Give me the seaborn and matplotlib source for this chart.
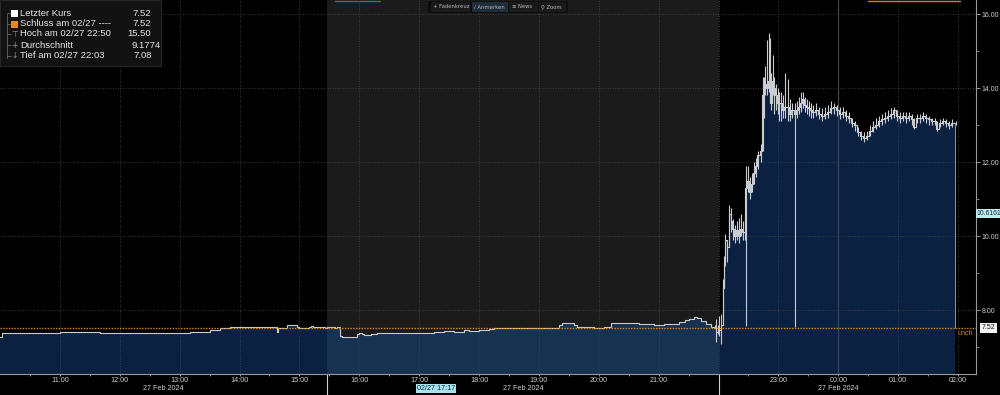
import matplotlib
matplotlib.use("Agg")
import matplotlib.pyplot as plt
from matplotlib.patches import Rectangle
from matplotlib.ticker import FixedLocator
import seaborn as sns
import numpy as np
import pandas as pd

# ---------------- data ----------------
LINE_TIMES = ["10:00", "10:02", "10:05", "10:30", "11:00", "11:40", "12:10", "12:50", "13:10",
              "13:20", "13:30", "13:40", "13:50", "14:00", "14:18", "14:38", "14:39", "14:48",
              "14:58", "15:00", "15:10", "15:12", "15:14", "15:22", "15:26", "15:28",
              "15:33", "15:36", "15:38", "15:41", "15:43", "15:55", "15:58", "16:00", "16:03",
              "16:05", "16:12", "16:18", "16:25", "16:35", "16:45", "16:55", "17:05", "17:15",
              "17:25", "17:35", "17:45", "17:50", "18:00", "18:10", "18:15", "18:25", "18:40",
              "19:00", "19:15", "19:20", "19:23", "19:35", "19:38", "19:55", "20:05", "20:12",
              "20:20", "20:30", "20:40", "20:55", "21:05", "21:15", "21:20", "21:26", "21:30",
              "21:35", "21:38", "21:42", "21:47", "21:52", "21:55"]
LINE_CLOSE = [7.28, 7.37, 7.385, 7.39, 7.40, 7.385, 7.39, 7.385, 7.40,
              7.41, 7.45, 7.50, 7.53, 7.53, 7.53, 7.40, 7.50, 7.59,
              7.55, 7.52, 7.54, 7.58, 7.54, 7.55, 7.50, 7.53,
              7.55, 7.50, 7.54, 7.30, 7.26, 7.27, 7.34, 7.38, 7.36,
              7.33, 7.35, 7.38, 7.37, 7.38, 7.37, 7.38, 7.39, 7.40,
              7.42, 7.40, 7.45, 7.43, 7.47, 7.49, 7.51, 7.52, 7.51,
              7.50, 7.51, 7.60, 7.64, 7.60, 7.53, 7.52, 7.53, 7.64,
              7.66, 7.65, 7.61, 7.60, 7.62, 7.63, 7.68, 7.72, 7.77,
              7.81, 7.78, 7.70, 7.62, 7.55, 7.52]

BAR_TIMES = ["21:56", "21:57", "21:59",
             "22:00", "22:02", "22:04", "22:05", "22:06", "22:08", "22:10", "22:12", "22:14",
             "22:16", "22:18", "22:20", "22:22", "22:24", "22:26", "22:27", "22:29", "22:31",
             "22:33", "22:35", "22:37", "22:39", "22:42", "22:44", "22:45", "22:46", "22:48",
             "22:50", "22:51", "22:52", "22:54", "22:55", "22:57", "22:59", "23:00", "23:02",
             "23:04", "23:06", "23:09", "23:11", "23:13", "23:16", "23:18", "23:20", "23:22",
             "23:24", "23:26", "23:28", "23:30", "23:32", "23:34", "23:37", "23:40", "23:43",
             "23:46", "23:49", "23:52", "23:55", "23:58", "00:01", "00:04", "00:07", "00:10",
             "00:13", "00:16", "00:19", "00:22", "00:25", "00:28", "00:31", "00:34", "00:37",
             "00:40", "00:43", "00:46", "00:49", "00:52", "00:55", "00:58", "01:01", "01:04",
             "01:07", "01:10", "01:13", "01:15", "01:18", "01:21", "01:24", "01:27", "01:30",
             "01:33", "01:36", "01:38", "01:41", "01:44", "01:47", "01:50", "01:53", "01:57"]
BAR_CLOSE = [7.52, 7.40, 7.50,
             7.45, 7.60, 8.60, 9.30, 9.90, 9.70, 10.60, 10.40, 10.20,
             10.00, 10.15, 10.00, 10.20, 10.10, 10.10, 11.30, 11.50, 11.20,
             11.40, 11.70, 11.90, 12.20, 12.30, 13.80, 14.10, 14.10, 14.00,
             14.20, 14.10, 13.60, 14.20, 14.00, 13.80, 13.60, 13.60, 13.60,
             13.40, 13.50, 13.50, 13.30, 13.40, 13.30, 13.40, 13.50, 13.60,
             13.70, 13.55, 13.50, 13.45, 13.40, 13.35, 13.40, 13.30, 13.25,
             13.30, 13.35, 13.45, 13.50, 13.40, 13.30, 13.35, 13.25, 13.20,
             13.05, 13.00, 12.80, 12.70, 12.65, 12.70, 12.85, 12.95, 13.00,
             13.10, 13.15, 13.20, 13.25, 13.30, 13.40, 13.25, 13.20, 13.25,
             13.20, 13.25, 13.15, 12.95, 13.20, 13.20, 13.25, 13.20, 13.15,
             13.10, 13.10, 12.90, 13.05, 13.10, 13.05, 13.00, 13.05, 13.05]
BAR_LOW = [7.50, 7.14, 7.35,
           7.30, 7.08, 7.60, 8.60, 9.20, 9.30, 9.70, 10.10, 9.90,
           9.80, 9.90, 9.80, 10.00, 9.90, 9.90, 7.57, 11.20, 11.00,
           11.20, 11.40, 11.60, 11.80, 12.00, 12.30, 13.20, 13.80, 13.80,
           13.90, 13.60, 13.40, 13.80, 13.30, 13.40, 13.30, 13.10, 13.10,
           13.20, 13.20, 13.10, 13.10, 13.20, 7.55, 13.20, 13.30, 13.35,
           13.45, 13.35, 13.30, 13.25, 13.20, 13.20, 13.25, 13.15, 13.10,
           13.15, 13.20, 13.30, 13.30, 13.25, 13.15, 13.20, 13.10, 13.05,
           12.95, 12.85, 12.70, 12.60, 12.55, 12.60, 12.70, 12.80, 12.90,
           12.95, 13.00, 13.05, 13.10, 13.15, 13.20, 13.10, 13.05, 13.10,
           13.05, 13.10, 13.00, 12.90, 13.05, 13.05, 13.10, 13.05, 13.00,
           13.00, 13.00, 12.85, 12.95, 13.00, 12.95, 12.90, 12.95, 13.00]
BAR_HIGH = [7.60, 7.76, 7.60,
            7.85, 7.90, 8.85, 9.45, 10.05, 9.90, 10.85, 10.75, 10.45,
            10.30, 10.40, 10.50, 10.60, 10.40, 10.60, 11.90, 11.90, 11.60,
            11.70, 12.00, 12.10, 12.30, 12.50, 14.30, 14.30, 14.60, 15.30,
            15.50, 15.35, 14.40, 14.90, 14.30, 14.10, 14.00, 13.90, 13.90,
            13.80, 14.40, 14.25, 13.70, 13.60, 13.60, 13.65, 13.75, 13.90,
            13.90, 13.75, 13.70, 13.65, 13.60, 13.55, 13.60, 13.50, 13.45,
            13.50, 13.55, 13.65, 13.60, 13.55, 13.50, 13.50, 13.40, 13.35,
            13.20, 13.10, 12.95, 12.85, 12.80, 12.85, 13.00, 13.10, 13.20,
            13.25, 13.30, 13.35, 13.40, 13.45, 13.50, 13.40, 13.35, 13.35,
            13.35, 13.35, 13.30, 13.20, 13.30, 13.30, 13.35, 13.30, 13.25,
            13.20, 13.20, 13.10, 13.15, 13.20, 13.15, 13.10, 13.15, 13.10]

LAST_PRICE = 7.52
CROSS_VALUE = 10.6161
CROSS_TIME = "17:17"
Y_MAJOR = [8, 10, 12, 14, 16]
Y_MINOR = [7, 9, 11, 13, 15]
X_TICKS = ["11:00", "12:00", "13:00", "14:00", "15:00", "16:00", "17:00", "18:00", "19:00",
           "20:00", "21:00", "22:00", "23:00", "00:00", "01:00", "02:00"]
X_LABELS = ["11:00", "12:00", "13:00", "14:00", "15:00", "16:00", "17:00", "18:00", "19:00",
            "20:00", "21:00", "", "23:00", "00:00", "01:00", "02:00"]
SESSION_BOUNDS = ["15:28", "22:00"]
SESSION_DATE = "27 Feb 2024"
LEGEND_ROWS = [("Letzter Kurs", "7.52"), ("Schluss am 02/27 ----", "7.52"),
               ("Hoch am 02/27 22:50", "15.50"), ("Durchschnitt", "9.1774"),
               ("Tief am 02/27 22:03", "7.08")]
TOOLBAR = ["+ Fadenkreuz", "\u2215 Anmerken", "\u2261 News", "\u26b2 Zoom"]


def to_min(s):
    h, m = map(int, s.split(":"))
    t = h * 60 + m - 600
    return t + 1440 if t < 0 else t


# ---------------- style ----------------
sns.set_theme(style="dark", rc={"axes.facecolor": "black", "figure.facecolor": "black",
                                "savefig.facecolor": "black"})
plt.rcParams["font.family"] = ["Liberation Sans", "DejaVu Sans"]

NAVY = "#0b2141"
NAVY2 = "#173150"
GRID = "#4a4a4a"
ORANGE = "#d98a25"
LINEC = "#c9cdd2"
TXT = "#cfcfcf"

W, H = 1000, 395
fig = plt.figure(figsize=(W / 100, H / 100), dpi=100)
AX_BOTTOM = 374
ax = fig.add_axes([0, 1 - AX_BOTTOM / H, 976 / W, AX_BOTTOM / H])
ax.set_facecolor("black")

XMAX = 978
YMIN, YMAX = 6.27, 16.38
ax.set_xlim(0, XMAX)
ax.set_ylim(YMIN, YMAX)

b1, b2 = [to_min(s) for s in SESSION_BOUNDS]
ax.axvspan(b1, b2, color="#1b1b1b", zorder=0, lw=0)

# combined series
all_t = np.array([to_min(s) for s in LINE_TIMES + BAR_TIMES], dtype=float)
all_v = np.array(LINE_CLOSE + BAR_CLOSE, dtype=float)
df = pd.DataFrame({"t": all_t, "v": all_v})

for a, b, col in [(0, b1, NAVY), (b1, b2, NAVY2), (b2, all_t.max(), NAVY)]:
    m = (df.t >= a) & (df.t <= b)
    ax.fill_between(df.t[m], df.v[m], YMIN - 1, step="post", color=col, lw=0, zorder=1)

# grid
for t in X_TICKS:
    ax.axvline(to_min(t), color=GRID, lw=0.6, ls=(0, (1, 2)), zorder=2)
for y in Y_MAJOR:
    ax.axhline(y, color=GRID, lw=0.6, ls=(0, (1, 2)), zorder=2)
ax.axvline(to_min("00:00"), color="#3a4654", lw=0.9, zorder=2)

# price line
sns.lineplot(data=df, x="t", y="v", drawstyle="steps-post", color=LINEC, lw=0.8,
             estimator=None, sort=False, ax=ax, zorder=4)
bt = np.array([to_min(s) for s in BAR_TIMES], dtype=float) + 0.5
ax.vlines(bt, BAR_LOW, BAR_HIGH, color=LINEC, lw=0.8, zorder=4)
ax.vlines(all_t.max(), LAST_PRICE, all_v[-1], color="#8a96a4", lw=0.7, zorder=4)

# last price line
ax.axhline(LAST_PRICE, color=ORANGE, lw=1.0, ls=(0, (1, 1)), zorder=5)

# axes styling
for s in ["left", "top"]:
    ax.spines[s].set_visible(False)
for s in ["right", "bottom"]:
    ax.spines[s].set_visible(True)
    ax.spines[s].set_color("#9a9a9a")
    ax.spines[s].set_linewidth(0.8)
ax.set_xlabel("")
ax.set_ylabel("")
ax.yaxis.tick_right()
ax.yaxis.set_major_locator(FixedLocator(Y_MAJOR))
ax.yaxis.set_minor_locator(FixedLocator(Y_MINOR))
ax.set_yticklabels([f"{y:.2f}" for y in Y_MAJOR])
ax.xaxis.set_major_locator(FixedLocator([to_min(t) for t in X_TICKS]))
ax.set_xticklabels(X_LABELS)
ax.xaxis.set_minor_locator(FixedLocator([to_min(t) + 30 for t in ["10:00"] + X_TICKS[:-1]]))
ax.tick_params(axis="y", which="major", direction="out", length=3, width=0.7,
               color="#9a9a9a", labelsize=5.0, labelcolor=TXT, pad=1.0, right=True, left=False)
ax.tick_params(axis="y", which="minor", direction="out", length=2, width=0.6,
               color="#9a9a9a", right=True, left=False)
ax.tick_params(axis="x", which="major", direction="out", length=1.5, width=0.7,
               color="#9a9a9a", labelsize=5.2, labelcolor=TXT, pad=0.3, bottom=True)
ax.tick_params(axis="x", which="minor", direction="out", length=1.5, width=0.6,
               color="#9a9a9a", bottom=True)
ax.grid(False)

xt = ax.get_xaxis_transform()
yt = ax.get_yaxis_transform()

# session boundary marks below axis
for b in (b1, b2):
    ax.plot([b, b], [0, -21 / AX_BOTTOM], transform=xt, color="#d0d0d0", lw=0.8, clip_on=False)

# date labels centred on sessions
sess_edges = [0, b1, b2, to_min("02:00")]
for a, b in zip(sess_edges[:-1], sess_edges[1:]):
    ax.text((a + b) / 2, -14.5 / AX_BOTTOM, SESSION_DATE, transform=xt, ha="center",
            va="center", fontsize=5.2, color=TXT, clip_on=False)

# crosshair time label
ax.text(to_min(CROSS_TIME), -14.5 / AX_BOTTOM, "02/27 " + CROSS_TIME, transform=xt,
        ha="center", va="center", fontsize=5.2, color="#0d2a3f", clip_on=False,
        bbox=dict(boxstyle="square,pad=0.12", fc="#a9e2ec", ec="none"))

# right-side value labels
ax.text(1.0005, CROSS_VALUE, f"{CROSS_VALUE:.4f}", transform=yt, ha="left", va="center",
        fontsize=4.9, color="#0d2a3f", clip_on=False,
        bbox=dict(boxstyle="square,pad=0.12", fc="#bfeaf1", ec="none"))
ax.text(1.006, LAST_PRICE, f"{LAST_PRICE:.2f}", transform=yt, ha="left", va="center",
        fontsize=5.0, color="#111111", clip_on=False,
        bbox=dict(boxstyle="square,pad=0.2", fc="#f2f2f2", ec="none"))
ax.text(to_min("02:00") - 1, LAST_PRICE - 0.05, "unch", ha="left", va="top",
        fontsize=5.2, color=ORANGE, zorder=6)


def px(x, y):
    return x / W, 1 - y / H


# legend block
fig.patches.append(Rectangle(px(0, 66), 161 / W, 66 / H, transform=fig.transFigure,
                             fc="#121212", ec="#2e2e2e", lw=0.6, zorder=10))
fig.lines.append(plt.Line2D([7 / W, 7 / W], [1 - 14 / H, 1 - 58 / H], transform=fig.transFigure,
                            color="#666666", lw=0.6, zorder=11))
row_y = [13, 24, 34, 45, 56]
val_x = [132, 132, 127, 132, 133]
for i, ((lab, val), y) in enumerate(zip(LEGEND_ROWS, row_y)):
    fig.lines.append(plt.Line2D([7 / W, 11 / W], [1 - y / H, 1 - y / H], transform=fig.transFigure,
                                color="#666666", lw=0.6, zorder=11))
    if i == 0:
        fig.patches.append(Rectangle(px(11, y + 3.5), 7 / W, 7 / H, transform=fig.transFigure,
                                     fc="white", ec="none", zorder=12))
    elif i == 1:
        fig.patches.append(Rectangle(px(11, y + 3.5), 7 / W, 7 / H, transform=fig.transFigure,
                                     fc="#e8891c", ec="none", zorder=12))
    else:
        sym = {2: "\u22a4", 3: "+", 4: "\u2193"}[i]
        fig.text(*px(14.5, y), sym, ha="center", va="center", fontsize=5.5, color="#9a9a9a",
                 family=["DejaVu Sans"], zorder=12)
    fig.text(*px(20, y), lab, ha="left", va="center", fontsize=6.8, color="#e6e6e6", zorder=12)
    fig.text(*px(val_x[i], y), val, ha="left", va="center", fontsize=6.8, color="#e6e6e6",
             zorder=12)

# toolbar
fig.patches.append(Rectangle(px(428, 13), 140 / W, 12 / H, transform=fig.transFigure,
                             fc="#0e0e0e", ec="none", zorder=10))
tb_x = [432, 473, 511, 540]
tb_w = [39, 36, 28, 27]
for i, (lab, x, w) in enumerate(zip(TOOLBAR, tb_x, tb_w)):
    fig.patches.append(Rectangle(px(x - 1.5, 11.5), w / W, 9 / H, transform=fig.transFigure,
                                 fc="#1f2c3a" if i == 1 else "#1a1a1a", ec="none", zorder=11))
    fig.text(*px(x + 1, 7), lab, ha="left", va="center", fontsize=3.8, color="#b8b8b8",
             family=["DejaVu Sans"], zorder=12)

# thin coloured markers at the very top
fig.lines.append(plt.Line2D([335 / W, 380 / W], [1 - 0.6 / H] * 2, transform=fig.transFigure,
                            color="#2b6cb0", lw=1.0, zorder=12))
fig.lines.append(plt.Line2D([868 / W, 960 / W], [1 - 0.6 / H] * 2, transform=fig.transFigure,
                            color="#c88a2a", lw=1.0, zorder=12))

if ax.get_legend() is not None:
    ax.get_legend().remove()

fig.savefig("out.png", dpi=100, facecolor="black")
